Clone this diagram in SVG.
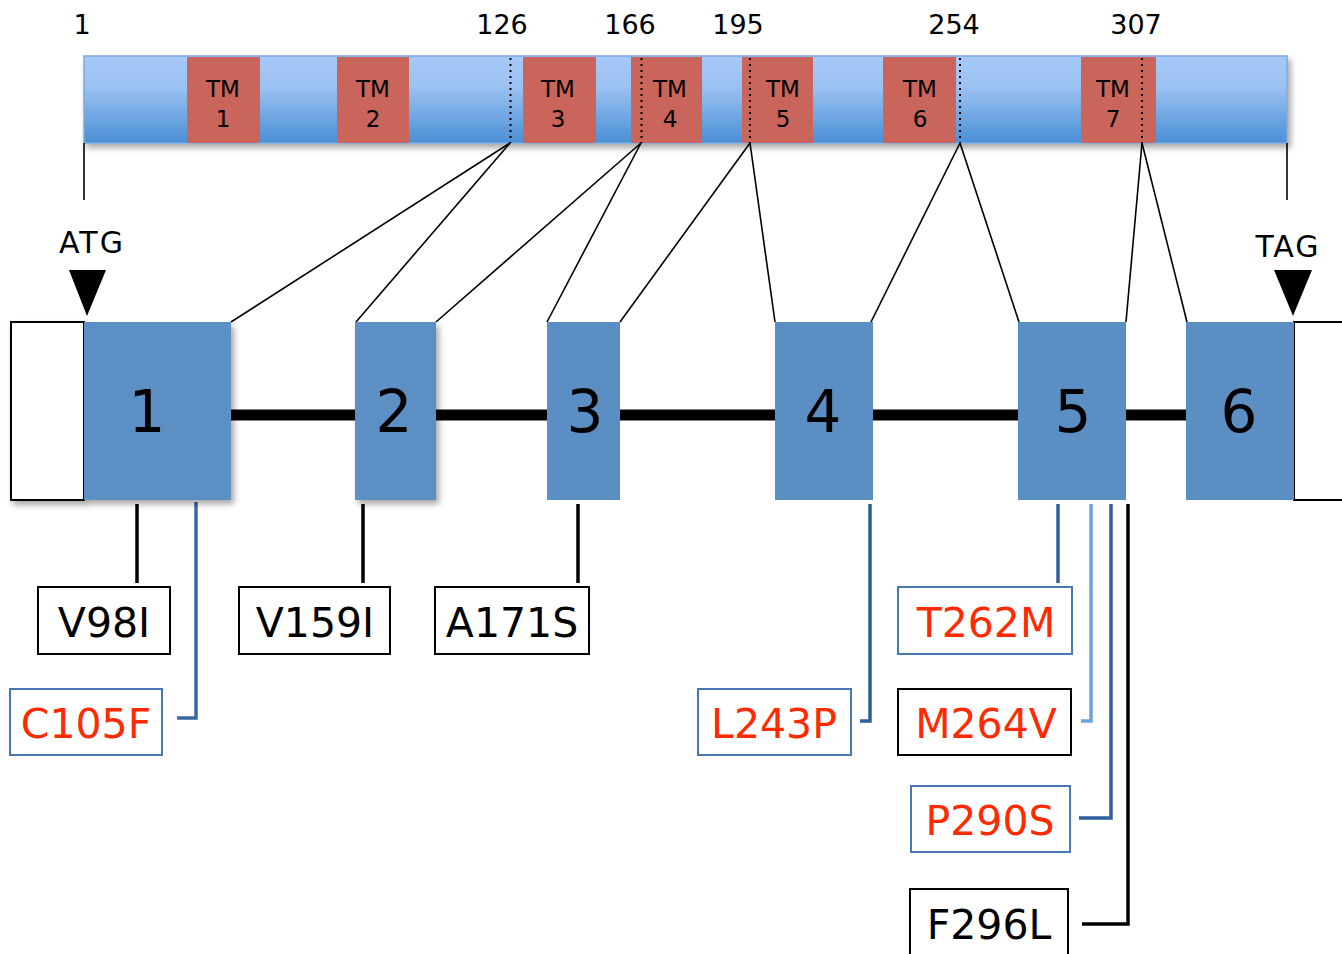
<svg xmlns="http://www.w3.org/2000/svg" width="1342" height="954" viewBox="0 0 1342 954">
<defs>
<linearGradient id="barG" x1="0" y1="0" x2="0" y2="1">
<stop offset="0" stop-color="#a6c9f8"/>
<stop offset="0.35" stop-color="#9cc2f2"/>
<stop offset="1" stop-color="#4a8fd6"/>
</linearGradient>
<filter id="sh" x="-10%" y="-10%" width="130%" height="130%">
<feDropShadow dx="3" dy="4" stdDeviation="3" flood-color="#000" flood-opacity="0.35"/>
</filter>
</defs>
<style>
text{font-family:"Comic Sans MS","DejaVu Sans",sans-serif;text-anchor:middle;}
.num{font-size:27px;fill:#000;}
.tm{fill:#c9655b;}
.tmt{font-size:23px;fill:#000;}
.dot{stroke:#000;stroke-width:2;stroke-dasharray:2 4;}
.thin{stroke:#000;stroke-width:1.6;fill:none;}
.exon{fill:#5b8fc4;}
.exn{font-size:58px;fill:#000;}
.utr{fill:#fff;stroke:#000;stroke-width:2;}
.mbox{fill:#fff;stroke-width:2;}
.bk{stroke:#000;}
.bl{stroke:#4a78b2;}
.mt{font-size:41px;}
.red{fill:#ff2a00;}
.blk{fill:#000;}
.c{fill:none;stroke-width:3.5;}
</style>

<g id="protein">
<rect x="84" y="56" width="1203" height="87" fill="url(#barG)" stroke="#7aaadf" stroke-width="1.5" filter="url(#sh)"/>
<g id="tm1"><rect class="tm" x="187" y="57" width="73" height="86"/><text class="tmt" x="223" y="97">TM</text><text class="tmt" x="223" y="127">1</text></g>
<g id="tm2"><rect class="tm" x="337" y="57" width="72" height="86"/><text class="tmt" x="373" y="97">TM</text><text class="tmt" x="373" y="127">2</text></g>
<g id="tm3"><rect class="tm" x="523" y="57" width="73" height="86"/><text class="tmt" x="558" y="97">TM</text><text class="tmt" x="558" y="127">3</text></g>
<g id="tm4"><rect class="tm" x="631" y="57" width="71" height="86"/><text class="tmt" x="670" y="97">TM</text><text class="tmt" x="670" y="127">4</text></g>
<g id="tm5"><rect class="tm" x="742" y="57" width="71" height="86"/><text class="tmt" x="783" y="97">TM</text><text class="tmt" x="783" y="127">5</text></g>
<g id="tm6"><rect class="tm" x="883" y="57" width="73" height="86"/><text class="tmt" x="920" y="97">TM</text><text class="tmt" x="920" y="127">6</text></g>
<g id="tm7"><rect class="tm" x="1081" y="57" width="75" height="86"/><text class="tmt" x="1113" y="97">TM</text><text class="tmt" x="1113" y="127">7</text></g>
<line class="dot" x1="510.5" y1="58" x2="510.5" y2="143"/>
<line class="dot" x1="641.5" y1="58" x2="641.5" y2="143"/>
<line class="dot" x1="750" y1="58" x2="750" y2="143"/>
<line class="dot" x1="960" y1="58" x2="960" y2="143"/>
<line class="dot" x1="1142" y1="58" x2="1142" y2="143"/>
</g>

<g id="positions">
<text class="num" x="82" y="34">1</text>
<text class="num" x="502" y="34">126</text>
<text class="num" x="630" y="34">166</text>
<text class="num" x="738" y="34">195</text>
<text class="num" x="954" y="34">254</text>
<text class="num" x="1136" y="34">307</text>
</g>

<g id="connectors">
<line class="thin" x1="84" y1="143" x2="84" y2="200"/>
<line class="thin" x1="1287" y1="143" x2="1287" y2="200"/>
<line class="thin" x1="510" y1="143" x2="231" y2="322"/>
<line class="thin" x1="510" y1="143" x2="356" y2="322"/>
<line class="thin" x1="641" y1="143" x2="436" y2="322"/>
<line class="thin" x1="641" y1="143" x2="547" y2="322"/>
<line class="thin" x1="750" y1="143" x2="620" y2="322"/>
<line class="thin" x1="750" y1="143" x2="775" y2="322"/>
<line class="thin" x1="960" y1="143" x2="871" y2="322"/>
<line class="thin" x1="960" y1="143" x2="1019" y2="322"/>
<line class="thin" x1="1142" y1="143" x2="1126" y2="322"/>
<line class="thin" x1="1142" y1="143" x2="1187" y2="322"/>
<line x1="231" y1="415" x2="1186" y2="415" stroke="#000" stroke-width="11"/>
<line class="c" stroke="#000" x1="137" y1="504" x2="137" y2="583"/>
<polyline class="c" stroke="#3a68a4" points="196,502 196,718 177,718"/>
<line class="c" stroke="#000" x1="363" y1="504" x2="363" y2="583"/>
<line class="c" stroke="#000" x1="578" y1="504" x2="578" y2="583"/>
<polyline class="c" stroke="#2f5f9c" points="870,504 870,721 860,721"/>
<line class="c" stroke="#2f5f9c" x1="1058" y1="504" x2="1058" y2="583"/>
<polyline class="c" stroke="#6fa2d8" points="1091,504 1091,721 1081,721"/>
<polyline class="c" stroke="#2f5f9c" points="1111,504 1111,818 1079,818"/>
<polyline class="c" stroke="#000" points="1128,504 1128,924 1082,924"/>
</g>

<g id="start">
<text x="92" y="253" font-size="30" letter-spacing="2">ATG</text>
<polygon points="69,270 106,270 87,316" fill="#000"/>
</g>
<g id="stop">
<text x="1288" y="257" font-size="30" letter-spacing="2">TAG</text>
<polygon points="1274,270 1312,270 1293,316" fill="#000"/>
</g>

<g id="utr5"><rect class="utr" x="11" y="322" width="73" height="178" filter="url(#sh)"/></g>
<g id="utr3"><rect class="utr" x="1294" y="322" width="60" height="178"/></g>

<g id="exon1"><rect class="exon" x="84" y="322" width="147" height="178" filter="url(#sh)"/><text class="exn" x="147" y="432">1</text></g>
<g id="exon2"><rect class="exon" x="355" y="322" width="81" height="178" filter="url(#sh)"/><text class="exn" x="394" y="432">2</text></g>
<g id="exon3"><rect class="exon" x="547" y="322" width="73" height="178"/><text class="exn" x="585" y="432">3</text></g>
<g id="exon4"><rect class="exon" x="775" y="322" width="98" height="178"/><text class="exn" x="823" y="432">4</text></g>
<g id="exon5"><rect class="exon" x="1018" y="322" width="108" height="178"/><text class="exn" x="1073" y="432">5</text></g>
<g id="exon6"><rect class="exon" x="1186" y="322" width="108" height="178"/><text class="exn" x="1239" y="432">6</text></g>

<g id="V98I"><rect class="mbox bk" x="38" y="587" width="132" height="67"/><text class="mt blk" x="104" y="637">V98I</text></g>
<g id="C105F"><rect class="mbox bl" x="10" y="689" width="152" height="66"/><text class="mt red" x="86" y="738">C105F</text></g>
<g id="V159I"><rect class="mbox bk" x="239" y="587" width="151" height="67"/><text class="mt blk" x="315" y="637">V159I</text></g>
<g id="A171S"><rect class="mbox bk" x="435" y="587" width="154" height="67"/><text class="mt blk" x="512" y="637">A171S</text></g>
<g id="L243P"><rect class="mbox bl" x="698" y="689" width="153" height="66"/><text class="mt red" x="774" y="738">L243P</text></g>
<g id="T262M"><rect class="mbox bl" x="898" y="587" width="174" height="67"/><text class="mt red" x="986" y="637">T262M</text></g>
<g id="M264V"><rect class="mbox bk" x="898" y="689" width="173" height="66"/><text class="mt red" x="986" y="738">M264V</text></g>
<g id="P290S"><rect class="mbox bl" x="911" y="786" width="159" height="66"/><text class="mt red" x="990" y="835">P290S</text></g>
<g id="F296L"><rect class="mbox bk" x="910" y="889" width="158" height="72"/><text class="mt blk" x="989" y="939">F296L</text></g>
</svg>
